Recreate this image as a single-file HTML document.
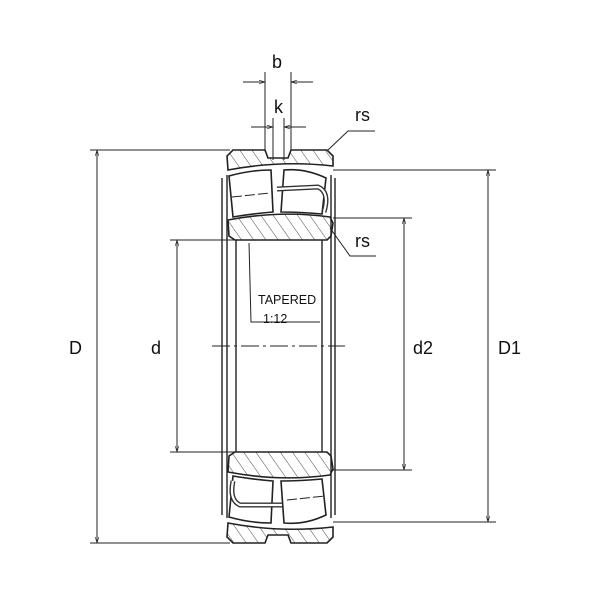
<!DOCTYPE html>
<html><head><style>body{margin:0;background:#fff}svg{display:block}text{font-family:"Liberation Sans",sans-serif;fill:#111}</style></head><body>
<svg width="600" height="600" viewBox="0 0 600 600" xmlns="http://www.w3.org/2000/svg">
<defs>
<pattern id="h" width="10" height="10" patternUnits="userSpaceOnUse" patternTransform="rotate(-35)"><line x1="0" y1="0" x2="0" y2="10" stroke="#333" stroke-width="0.9"/></pattern>
<marker id="a" viewBox="0 0 10 10" refX="10" refY="5" markerWidth="8" markerHeight="6" orient="auto-start-reverse"><path d="M0,2 L10,5 L0,8" fill="none" stroke="#222" stroke-width="1"/></marker>
</defs>
<g stroke="#222" fill="none" stroke-width="1">
<line x1="90" y1="150" x2="230" y2="150"/><line x1="90" y1="543" x2="230" y2="543"/>
<line x1="170" y1="240" x2="236" y2="240"/><line x1="170" y1="452" x2="236" y2="452"/>
<line x1="333" y1="218" x2="412" y2="218"/><line x1="333" y1="470" x2="412" y2="470"/>
<line x1="333" y1="170" x2="496" y2="170"/><line x1="333" y1="522" x2="496" y2="522"/>
<line x1="97" y1="150" x2="97" y2="543" marker-start="url(#a)" marker-end="url(#a)"/>
<line x1="177" y1="240" x2="177" y2="452" marker-start="url(#a)" marker-end="url(#a)"/>
<line x1="404" y1="218" x2="404" y2="470" marker-start="url(#a)" marker-end="url(#a)"/>
<line x1="488" y1="170" x2="488" y2="522" marker-start="url(#a)" marker-end="url(#a)"/>
<line x1="265" y1="72" x2="265" y2="150"/><line x1="291" y1="72" x2="291" y2="150"/>
<line x1="243" y1="82" x2="265" y2="82" marker-end="url(#a)"/><line x1="313" y1="82" x2="291" y2="82" marker-end="url(#a)"/>
<line x1="273" y1="118" x2="273" y2="160"/><line x1="284" y1="118" x2="284" y2="160"/>
<line x1="251" y1="127" x2="273" y2="127" marker-end="url(#a)"/><line x1="306" y1="127" x2="284" y2="127" marker-end="url(#a)"/>
<polyline points="328,150 348,131 375,131"/>
<polyline points="330,228 350,256 376,256"/>
<line x1="212" y1="346" x2="345" y2="346" stroke-dasharray="18,4,3,4"/>
<polyline points="249,243 251,322 320,322"/>
<g stroke-width="1.4">
<line x1="222" y1="178" x2="222" y2="515"/><line x1="227" y1="175" x2="227" y2="518"/>
<line x1="236" y1="240" x2="236" y2="452"/><line x1="322" y1="240" x2="322" y2="452"/>
<line x1="331" y1="175" x2="331" y2="518"/><line x1="335" y1="178" x2="335" y2="515"/>
</g>
<g stroke-width="1.6">
<path d="M233,150 L265,150 L268,158 L288,158 L291,150 L327,150 L333,156 L333,166 Q280,160 228,170 L227,156 Z" fill="url(#h)"/>
<path d="M233,543 L265,543 L268,535 L288,535 L291,543 L327,543 L333,537 L333,527 Q280,533 228,523 L227,537 Z" fill="url(#h)"/>
<path d="M228,220 Q280,210 330,217 L333,223 L331,236 L327,240 L235,240 L229,236 Z" fill="url(#h)"/>
<path d="M228,472 Q280,482 330,475 L333,469 L331,456 L327,452 L235,452 L229,456 Z" fill="url(#h)"/>
<path d="M229,176 Q250,170 271,170 L273,212 Q250,214 233,217 Z"/>
<path d="M284,170 Q305,168 326,178 L322,214 Q300,212 281,212 Z"/>
<path d="M229,517 Q250,523 271,523 L273,481 Q250,479 233,476 Z"/>
<path d="M284,523 Q305,525 326,515 L322,479 Q300,481 281,481 Z"/>
</g>
<path d="M277,189 L318,187 Q330,192 324,212" stroke-width="5" stroke="#333"/>
<path d="M277,189 L318,187 Q330,192 324,212" stroke-width="2.2" stroke="#fff"/>
<path d="M282,505 L240,505 Q229,500 233,481" stroke-width="5" stroke="#333"/>
<path d="M282,505 L240,505 Q229,500 233,481" stroke-width="2.2" stroke="#fff"/>
<line x1="232" y1="197" x2="270" y2="193" stroke-dasharray="10,3"/>
<line x1="287" y1="500" x2="325" y2="496" stroke-dasharray="10,3"/>
</g>
<g font-size="18">
<text x="272" y="68">b</text><text x="274" y="113">k</text>
<text x="355" y="121">rs</text><text x="355" y="247">rs</text>
<text x="69" y="354">D</text><text x="151" y="354">d</text>
<text x="413" y="354">d2</text><text x="498" y="354">D1</text>
</g>
<text x="258" y="304" font-size="12.5">TAPERED</text>
<text x="263" y="323" font-size="12.5">1:12</text>
</svg>
</body></html>
